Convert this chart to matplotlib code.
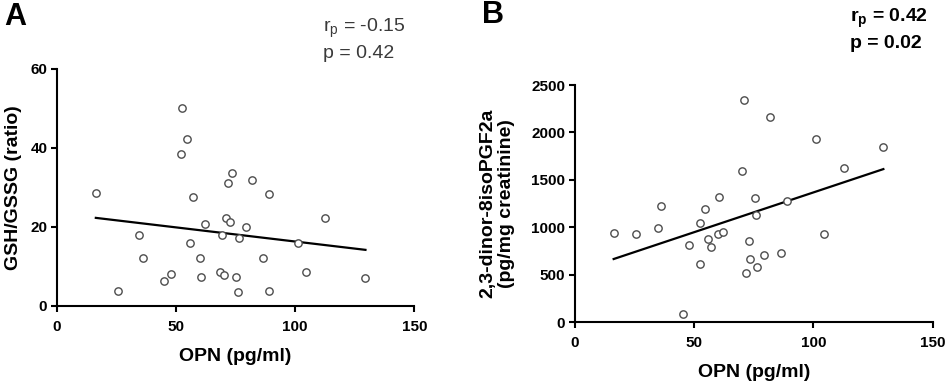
import matplotlib
matplotlib.use("Agg")
import matplotlib.pyplot as plt
import numpy as np

## DATA ##

# Panel A : OPN vs GSH/GSSG ratio
opn_a = [16.3, 25.6, 34.6, 35.9, 45.0, 48.0, 52.4, 52.2, 54.5, 55.9, 57.0, 60.0, 60.4, 62.0, 68.5, 69.3, 70.3,
         71.1, 71.7, 72.8, 73.4, 75.3, 75.9, 76.3, 79.4, 81.9, 86.3, 88.8, 89.1, 101.1, 104.5, 112.7, 129.5]
gsh_gssg = [28.7, 3.7, 18.0, 12.2, 6.4, 8.2, 50.2, 38.4, 42.3, 15.9, 27.5, 12.2, 7.3, 20.8, 8.6, 17.9, 7.8,
            22.3, 31.2, 21.2, 33.7, 7.3, 3.6, 17.3, 19.9, 32.0, 12.2, 3.9, 28.4, 15.9, 8.6, 22.4, 7.2]

# Panel B : OPN vs 2,3-dinor-8isoPGF2a
opn_b = [16.2, 25.7, 34.8, 35.9, 45.1, 47.9, 52.2, 52.4, 54.5, 55.9, 57.1, 59.9, 60.4, 62.2, 70.2, 71.0, 71.6,
         72.8, 73.3, 75.4, 75.9, 76.4, 79.3, 81.9, 86.2, 88.8, 101.0, 104.5, 112.9, 129.3]
isop = [941, 927, 998, 1229, 87, 819, 612, 1046, 1190, 882, 788, 935, 1316, 949, 1589, 2346, 521,
        857, 662, 1313, 1134, 584, 707, 2164, 725, 1281, 1933, 931, 1621, 1849]

x_ticks = [0, 50, 100, 150]
y_ticks_a = [0, 20, 40, 60]
y_ticks_b = [0, 500, 1000, 1500, 2000, 2500]

## STYLE ##

plt.rcParams['font.family'] = ['Liberation Sans', 'DejaVu Sans']
plt.rcParams['mathtext.fontset'] = 'custom'
plt.rcParams['mathtext.rm'] = 'Liberation Sans'
plt.rcParams['mathtext.bf'] = 'Liberation Sans:bold'
plt.rcParams['mathtext.it'] = 'Liberation Sans:italic'

fig = plt.figure(figsize=(9.5, 3.85), dpi=100)
axA = fig.add_axes([0.06, 0.2052, 0.3761, 0.6156])
axB = fig.add_axes([0.6053, 0.1629, 0.3765, 0.6163])


def style_axis(ax, yticks):
    for side in ['top', 'right']:
        ax.spines[side].set_visible(False)
    for side in ['left', 'bottom']:
        ax.spines[side].set_linewidth(1.5)
    ax.set_xlim(0, 150)
    ax.set_ylim(yticks[0], yticks[-1])
    ax.set_xticks(x_ticks)
    ax.set_yticks(yticks)
    ax.tick_params(direction='out', length=4, width=1.5, labelsize=11)
    ax.tick_params(axis='x', pad=6)
    ax.tick_params(axis='y', pad=3)
    for lab in ax.get_xticklabels() + ax.get_yticklabels():
        lab.set_fontweight('bold')
    ax.set_xlabel("OPN (pg/ml)", fontsize=14, fontweight='bold', labelpad=10)


def scatter_fit(ax, x, y):
    x = np.array(x)
    y = np.array(y)
    ax.scatter(x, y, s=28, facecolors='white', edgecolors='#4d4d4d', linewidths=1.0, zorder=3, clip_on=False)
    slope, inter = np.polyfit(x, y, 1)
    xl = np.array([x.min(), x.max()])
    ax.plot(xl, slope * xl + inter, color='black', linewidth=1.6, zorder=2)


## PANEL A ##
scatter_fit(axA, opn_a, gsh_gssg)
style_axis(axA, y_ticks_a)
axA.set_ylabel("GSH/GSSG (ratio)", fontsize=14, fontweight='bold', labelpad=6)

## PANEL B ##
scatter_fit(axB, opn_b, isop)
style_axis(axB, y_ticks_b)
axB.set_ylabel("2,3-dinor-8isoPGF2a\n(pg/mg creatinine)", fontsize=14, fontweight='bold', labelpad=12, linespacing=1.1)

## ANNOTATIONS ##
fig.text(323 / 950, 1 - 28 / 385, r"r$_\mathrm{p}$ = -0.15", fontsize=14, color='#3a3a3a', va='center', ha='left')
fig.text(323 / 950, 1 - 53 / 385, "p = 0.42", fontsize=14, color='#3a3a3a', va='center', ha='left')
fig.text(850 / 950, 1 - 18 / 385, r"r$_\mathbf{p}$ = 0.42", fontsize=14, fontweight='bold', va='center', ha='left')
fig.text(850 / 950, 1 - 43 / 385, "p = 0.02", fontsize=14, fontweight='bold', va='center', ha='left')

fig.text(4 / 950, 1 - 17 / 385, "A", fontsize=22, fontweight='bold', va='center', ha='left')
fig.text(482 / 950, 1 - 15 / 385, "B", fontsize=22, fontweight='bold', va='center', ha='left')

plt.savefig("out.png", dpi=100)
